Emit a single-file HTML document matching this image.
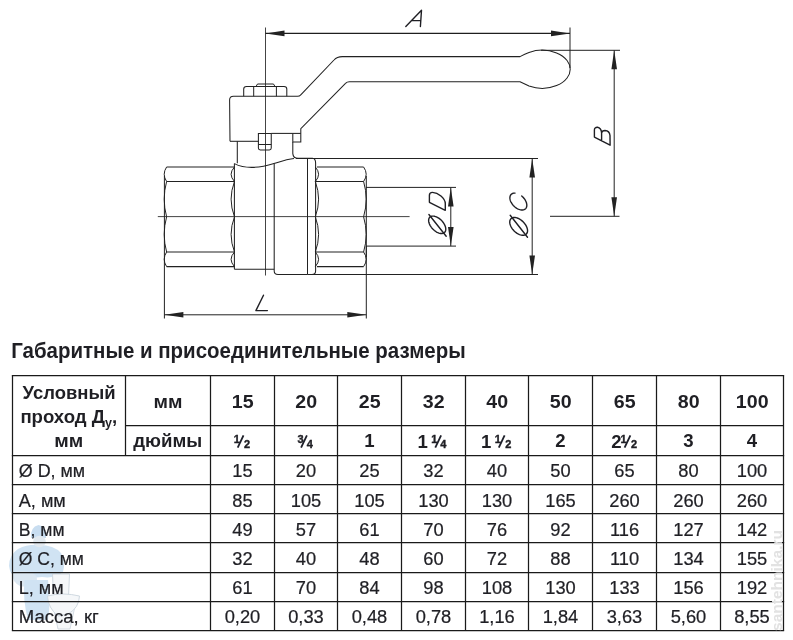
<!DOCTYPE html>
<html><head><meta charset="utf-8"><style>
html,body{margin:0;padding:0;background:#fff;}
body{width:793px;height:640px;overflow:hidden;position:relative;}
svg{position:absolute;left:0;top:0;will-change:transform;}
text{font-family:"Liberation Sans",sans-serif;fill:#1f1f24;stroke:#1f1f24;stroke-width:0.22px;}
text[font-weight="bold"]{stroke-width:0;}
</style></head><body>
<svg width="793" height="640" viewBox="0 0 793 640">
<line x1="265.5" y1="27.5" x2="265.5" y2="275.5" fill="none" stroke="#222222" stroke-width="0.85"/>
<line x1="157.8" y1="216.6" x2="409.6" y2="216.6" fill="none" stroke="#222222" stroke-width="0.85"/>
<line x1="265.5" y1="33.4" x2="570" y2="33.4" stroke="#1e1e1e" stroke-width="1.15"/>
<path d="M265.5,33.4 L284.50,36.20 L284.50,30.60 Z" fill="#222222" stroke="none"/>
<path d="M570,33.4 L551.00,30.60 L551.00,36.20 Z" fill="#222222" stroke="none"/>
<line x1="570" y1="27.5" x2="570" y2="68" fill="none" stroke="#222222" stroke-width="1.0"/>
<line x1="541" y1="50.3" x2="620" y2="50.3" fill="none" stroke="#222222" stroke-width="1.0"/>
<line x1="550" y1="216.3" x2="619.5" y2="216.3" fill="none" stroke="#222222" stroke-width="1.0"/>
<line x1="614.2" y1="50.3" x2="614.2" y2="216.3" fill="none" stroke="#222222" stroke-width="1.0"/>
<path d="M614.2,50.3 L611.40,69.30 L617.00,69.30 Z" fill="#222222" stroke="none"/>
<path d="M614.2,216.3 L617.00,197.30 L611.40,197.30 Z" fill="#222222" stroke="none"/>
<line x1="296" y1="158.5" x2="538" y2="158.5" fill="none" stroke="#222222" stroke-width="1.0"/>
<line x1="307.3" y1="274.5" x2="538" y2="274.5" fill="none" stroke="#222222" stroke-width="1.0"/>
<line x1="532.2" y1="158.5" x2="532.2" y2="274.5" fill="none" stroke="#222222" stroke-width="1.0"/>
<path d="M532.2,158.5 L529.40,177.50 L535.00,177.50 Z" fill="#222222" stroke="none"/>
<path d="M532.2,274.5 L535.00,255.50 L529.40,255.50 Z" fill="#222222" stroke="none"/>
<line x1="366" y1="187.4" x2="456" y2="187.4" fill="none" stroke="#222222" stroke-width="1.0"/>
<line x1="366" y1="246.1" x2="456" y2="246.1" fill="none" stroke="#222222" stroke-width="1.0"/>
<line x1="450.8" y1="187.4" x2="450.8" y2="246.1" fill="none" stroke="#222222" stroke-width="1.0"/>
<path d="M450.8,187.4 L448.00,206.40 L453.60,206.40 Z" fill="#222222" stroke="none"/>
<path d="M450.8,246.1 L453.60,227.10 L448.00,227.10 Z" fill="#222222" stroke="none"/>
<line x1="164.4" y1="257" x2="164.4" y2="318.5" fill="none" stroke="#222222" stroke-width="1.0"/>
<line x1="366.3" y1="246" x2="366.3" y2="318.5" fill="none" stroke="#222222" stroke-width="1.0"/>
<line x1="164.4" y1="314.8" x2="366.3" y2="314.8" fill="none" stroke="#222222" stroke-width="1.0"/>
<path d="M164.4,314.8 L183.40,317.60 L183.40,312.00 Z" fill="#222222" stroke="none"/>
<path d="M366.3,314.8 L347.30,312.00 L347.30,317.60 Z" fill="#222222" stroke="none"/>
<path d="M230,141.3 L229.6,100 Q229.6,96.3 233.5,96.3 L297.5,96.3 Q299.5,96.3 301,94.6 L334,60 Q337,56.6 342.3,56.6 L520,56.6 Q525,54 529,52.5 A28 19 0 1 1 529,86 Q525,84 520,81.7 L349.4,81.7 Q347,81.7 345.5,83.3 L300.8,128.6 L300.8,141.9 L292.8,141.9 L292.8,133.4" fill="none" stroke="#222222" stroke-width="1.05"/>
<path d="M230,141.3 L258.4,141.3" fill="none" stroke="#222222" stroke-width="1.05"/>
<path d="M271.25,133.4 L300.8,133.4" fill="none" stroke="#222222" stroke-width="1.05"/>
<path d="M258.4,133.4 L271.25,133.4 L271.25,148 Q271.25,149.9 269.3,149.9 L260.3,149.9 Q258.4,149.9 258.4,148 Z" fill="none" stroke="#222222" stroke-width="1.05"/>
<line x1="258.4" y1="144.5" x2="271.25" y2="144.5" fill="none" stroke="#222222" stroke-width="1.05"/>
<path d="M243.7,96.3 L243.7,89 Q243.7,86.5 246.5,86.5 L284,86.5 Q286.8,86.5 286.8,89 L286.8,96.3" fill="none" stroke="#222222" stroke-width="1.05"/>
<line x1="253.7" y1="87" x2="253.7" y2="96.3" fill="none" stroke="#222222" stroke-width="1.0"/>
<line x1="276.4" y1="87" x2="276.4" y2="96.3" fill="none" stroke="#222222" stroke-width="1.0"/>
<path d="M256,86.5 L257.5,84 L273.5,84 L275,86.5" fill="none" stroke="#222222" stroke-width="1.0"/>
<line x1="237.3" y1="141.3" x2="237.3" y2="163.3" fill="none" stroke="#222222" stroke-width="1.05"/>
<path d="M292.8,141.9 L292.8,153.6 Q293.2,158.3 298,158.3 L312.5,158.3 Q315.6,158.6 315.6,163 L315.6,271 Q315.6,274.5 312,274.5" fill="none" stroke="#222222" stroke-width="1.05"/>
<path d="M234.4,163.6 C245,169 258,168.5 274,163.5 C282,161 288,159 294,158.5" fill="none" stroke="#222222" stroke-width="1.05"/>
<line x1="234.4" y1="163.6" x2="234.4" y2="269.2" fill="none" stroke="#222222" stroke-width="1.05"/>
<line x1="234.4" y1="269.2" x2="274.2" y2="269.2" fill="none" stroke="#222222" stroke-width="1.05"/>
<path d="M274.2,163.5 L274.2,271 Q274.2,274.5 278,274.5 L307.3,274.5" fill="none" stroke="#222222" stroke-width="1.05"/>
<line x1="307.5" y1="158.3" x2="307.5" y2="274.5" fill="none" stroke="#222222" stroke-width="1.05"/>
<line x1="166.6" y1="167.0" x2="234.5" y2="167.0" fill="none" stroke="#222222" stroke-width="1.05"/>
<line x1="166.6" y1="266.6" x2="234.5" y2="266.6" fill="none" stroke="#222222" stroke-width="1.05"/>
<line x1="166.6" y1="181.5" x2="234.5" y2="181.5" fill="none" stroke="#222222" stroke-width="1.05"/>
<line x1="166.6" y1="252.0" x2="234.5" y2="252.0" fill="none" stroke="#222222" stroke-width="1.05"/>
<path d="M166.6,167.0 Q161.80,174.25 166.6,181.5 Q161.80,199.15 166.6,216.8 Q161.80,234.40 166.6,252.0 Q161.80,259.30 166.6,266.6" fill="none" stroke="#222222" stroke-width="1.0"/>
<line x1="164.4" y1="176" x2="164.4" y2="257" fill="none" stroke="#222222" stroke-width="1.0"/>
<path d="M234.5,167.0 Q227.70,174.25 234.5,181.5 Q227.70,199.15 234.5,216.8 Q227.70,234.40 234.5,252.0 Q227.70,259.30 234.5,266.6" fill="none" stroke="#222222" stroke-width="1.0"/>
<line x1="317" y1="167.0" x2="363.6" y2="167.0" fill="none" stroke="#222222" stroke-width="1.05"/>
<line x1="317" y1="266.6" x2="363.6" y2="266.6" fill="none" stroke="#222222" stroke-width="1.05"/>
<line x1="315.3" y1="181.5" x2="363.6" y2="181.5" fill="none" stroke="#222222" stroke-width="1.05"/>
<line x1="315.3" y1="252.0" x2="363.6" y2="252.0" fill="none" stroke="#222222" stroke-width="1.05"/>
<path d="M315.3,167.0 Q321.90,174.25 315.3,181.5 Q321.90,199.15 315.3,216.8 Q321.90,234.40 315.3,252.0 Q321.90,259.30 315.3,266.6" fill="none" stroke="#222222" stroke-width="1.0"/>
<path d="M363.6,167.0 Q368.80,174.25 363.6,181.5 Q368.80,199.15 363.6,216.8 Q368.80,234.40 363.6,252.0 Q368.80,259.30 363.6,266.6" fill="none" stroke="#222222" stroke-width="1.0"/>
<line x1="366.3" y1="176" x2="366.3" y2="257" fill="none" stroke="#222222" stroke-width="1.0"/>

<g>
<path d="M18,549 Q28,544 39,545 Q54,545 61,553 Q66,562 63,572 Q55,579 42,577 L20,579 Q10,577 9,566 Q9,555 18,549 Z" fill="#d0e3f3"/>
<path d="M31,538 Q30,527 38.5,525 Q46.5,526 46,538 Z" fill="#c8ddf0"/>
<ellipse cx="39.5" cy="541.5" rx="6.3" ry="5.8" fill="#e2e9ef"/>
<path d="M12,573 Q20,570 30,572 Q38,574 37,582 Q30,588 20,586 Q12,582 12,573 Z" fill="#dbe7f1"/>
<path d="M24.5,580 L48,580 Q51,600 48,620 L28,620 Q22.5,600 24.5,580 Z" fill="#d0e3f3"/>
<path d="M52.5,574 L69.5,574 L68.5,597 L53.5,597 Z" fill="#f5f7f9" stroke="#cfd8e0" stroke-width="1"/>
<path d="M53,606 L58,629 L70,629 L75,606 Z" fill="#f5f7f9" stroke="#d3dbe3" stroke-width="1"/>
<path d="M47.5,596 Q63,592 79.5,596 Q79,608 68,614 L58,616 Q48,608 47.5,596 Z" fill="#f5f7f9" stroke="#cfd8e0" stroke-width="1"/>
</g>

<path d="M405.8,26.5 L421.5,10.2 L420.4,26.5 M412.3,20.6 L420.8,20.6" fill="none" stroke="#1f1f24" stroke-width="1.4" stroke-linecap="round" stroke-linejoin="round"/>
<path d="M263.5,295.2 L255.9,310.6 L267.4,310.6" fill="none" stroke="#1f1f24" stroke-width="1.4" stroke-linecap="round" stroke-linejoin="round"/>
<path d="M594.4,137.1 L610.1,145.2 L610,135.5 Q609.5,130.8 605,130.5 Q602,130.6 601.6,133 L601.6,140.8 M601.6,133 Q601.2,128 597.5,127.3 Q594.4,127.2 594.4,130 L594.4,137.1" fill="none" stroke="#1f1f24" stroke-width="1.4" stroke-linecap="round" stroke-linejoin="round"/>
<path d="M445.3,210.3 L445.3,203.7 C445.3,198 438,192.5 432.5,192.4 Q429.4,192.4 429.4,195.3 L429.4,202.3 Z" fill="none" stroke="#1f1f24" stroke-width="1.4" stroke-linecap="round" stroke-linejoin="round"/>
<path d="M444.56,232.43 L444.06,232.83 L443.49,233.14 L442.85,233.36 L442.14,233.49 L441.38,233.52 L440.58,233.46 L439.74,233.30 L438.87,233.05 L437.98,232.71 L437.08,232.28 L436.19,231.77 L435.30,231.19 L434.44,230.53 L433.61,229.81 L432.81,229.04 L432.07,228.22 L431.38,227.36 L430.75,226.47 L430.20,225.57 L429.72,224.66 L429.32,223.75 L429.01,222.85 L428.79,221.97 L428.66,221.12 L428.63,220.32 L428.69,219.56 L428.84,218.86 L429.09,218.22 L429.42,217.66 L429.84,217.17 L430.34,216.77 L430.91,216.46 L431.55,216.24 L432.26,216.11 L433.02,216.08 L433.82,216.14 L434.66,216.30 L435.53,216.55 L436.42,216.89 L437.32,217.32 L438.21,217.83 L439.10,218.41 L439.96,219.07 L440.79,219.79 L441.59,220.56 L442.33,221.38 L443.02,222.24 L443.65,223.13 L444.20,224.03 L444.68,224.94 L445.08,225.85 L445.39,226.75 L445.61,227.63 L445.74,228.48 L445.77,229.28 L445.71,230.04 L445.56,230.74 L445.31,231.38 L444.98,231.94 L444.56,232.43 Z" fill="none" stroke="#1f1f24" stroke-width="1.4" stroke-linecap="round" stroke-linejoin="round"/>
<path d="M428.9,214.5 L446.2,236.3" fill="none" stroke="#1f1f24" stroke-width="1.4" stroke-linecap="round" stroke-linejoin="round"/>
<path d="M526.32,234.07 L525.81,234.50 L525.22,234.84 L524.55,235.09 L523.82,235.25 L523.04,235.30 L522.20,235.26 L521.33,235.12 L520.43,234.89 L519.50,234.57 L518.57,234.15 L517.64,233.65 L516.72,233.07 L515.83,232.41 L514.96,231.70 L514.13,230.92 L513.35,230.09 L512.64,229.22 L511.98,228.33 L511.40,227.41 L510.90,226.48 L510.48,225.55 L510.16,224.62 L509.93,223.72 L509.79,222.85 L509.75,222.01 L509.80,221.23 L509.96,220.50 L510.21,219.83 L510.55,219.24 L510.98,218.73 L511.49,218.30 L512.08,217.96 L512.75,217.71 L513.48,217.55 L514.26,217.50 L515.10,217.54 L515.97,217.68 L516.87,217.91 L517.80,218.23 L518.73,218.65 L519.66,219.15 L520.58,219.73 L521.47,220.39 L522.34,221.10 L523.17,221.88 L523.95,222.71 L524.66,223.58 L525.32,224.47 L525.90,225.39 L526.40,226.32 L526.82,227.25 L527.14,228.18 L527.37,229.08 L527.51,229.95 L527.55,230.79 L527.50,231.57 L527.34,232.30 L527.09,232.97 L526.75,233.56 L526.32,234.07 Z" fill="none" stroke="#1f1f24" stroke-width="1.4" stroke-linecap="round" stroke-linejoin="round"/>
<path d="M510.2,215.2 L527.5,237.3" fill="none" stroke="#1f1f24" stroke-width="1.4" stroke-linecap="round" stroke-linejoin="round"/>
<path d="M521.74,196.07 L522.44,196.67 L523.10,197.32 L523.71,198.01 L524.29,198.72 L524.81,199.46 L525.29,200.22 L525.70,200.98 L526.05,201.76 L526.34,202.53 L526.56,203.29 L526.72,204.03 L526.80,204.76 L526.82,205.46 L526.76,206.13 L526.64,206.76 L526.44,207.34 L526.18,207.88 L525.86,208.36 L525.47,208.79 L525.02,209.16 L524.52,209.47 L523.97,209.71 L523.36,209.88 L522.72,209.98 L522.04,210.01 L521.33,209.97 L520.60,209.87 L519.85,209.69 L519.08,209.44 L518.31,209.13 L517.54,208.76 L516.78,208.33 L516.03,207.84 L515.30,207.30 L514.59,206.71 L513.92,206.07 L513.28,205.40 L512.69,204.70 L512.14,203.97 L511.64,203.23 L511.20,202.46 L510.82,201.69 L510.50,200.92 L510.25,200.16 L510.06,199.40 L509.95,198.67 L509.90,197.95 L509.92,197.27 L510.02,196.62 L510.18,196.02 L510.41,195.46 L510.71,194.95 L511.07,194.49 L511.49,194.10 L511.97,193.76 L512.50,193.49 L513.08,193.29 L513.70,193.16 L514.37,193.09 L515.06,193.10" fill="none" stroke="#1f1f24" stroke-width="1.4" stroke-linecap="round" stroke-linejoin="round"/>
<line x1="11.85" y1="375.5" x2="784.15" y2="375.5" stroke="#1a1a1a" stroke-width="1.25"/>
<line x1="125.5" y1="425.5" x2="783.5" y2="425.5" stroke="#1a1a1a" stroke-width="1.25"/>
<line x1="11.85" y1="455.5" x2="784.15" y2="455.5" stroke="#1a1a1a" stroke-width="1.25"/>
<line x1="11.85" y1="484.5" x2="784.15" y2="484.5" stroke="#1a1a1a" stroke-width="1.25"/>
<line x1="11.85" y1="513.5" x2="784.15" y2="513.5" stroke="#1a1a1a" stroke-width="1.25"/>
<line x1="11.85" y1="542.5" x2="784.15" y2="542.5" stroke="#1a1a1a" stroke-width="1.25"/>
<line x1="11.85" y1="572.5" x2="784.15" y2="572.5" stroke="#1a1a1a" stroke-width="1.25"/>
<line x1="11.85" y1="601.5" x2="784.15" y2="601.5" stroke="#1a1a1a" stroke-width="1.25"/>
<line x1="11.85" y1="630.5" x2="784.15" y2="630.5" stroke="#1a1a1a" stroke-width="1.25"/>
<line x1="12.5" y1="375.5" x2="12.5" y2="630.5" stroke="#1a1a1a" stroke-width="1.25"/>
<line x1="125.5" y1="375.5" x2="125.5" y2="455.5" stroke="#1a1a1a" stroke-width="1.25"/>
<line x1="210.5" y1="375.5" x2="210.5" y2="630.5" stroke="#1a1a1a" stroke-width="1.25"/>
<line x1="274.5" y1="375.5" x2="274.5" y2="630.5" stroke="#1a1a1a" stroke-width="1.25"/>
<line x1="337.5" y1="375.5" x2="337.5" y2="630.5" stroke="#1a1a1a" stroke-width="1.25"/>
<line x1="401.5" y1="375.5" x2="401.5" y2="630.5" stroke="#1a1a1a" stroke-width="1.25"/>
<line x1="465.5" y1="375.5" x2="465.5" y2="630.5" stroke="#1a1a1a" stroke-width="1.25"/>
<line x1="528.5" y1="375.5" x2="528.5" y2="630.5" stroke="#1a1a1a" stroke-width="1.25"/>
<line x1="592.5" y1="375.5" x2="592.5" y2="630.5" stroke="#1a1a1a" stroke-width="1.25"/>
<line x1="656.5" y1="375.5" x2="656.5" y2="630.5" stroke="#1a1a1a" stroke-width="1.25"/>
<line x1="720.5" y1="375.5" x2="720.5" y2="630.5" stroke="#1a1a1a" stroke-width="1.25"/>
<line x1="783.5" y1="375.5" x2="783.5" y2="630.5" stroke="#1a1a1a" stroke-width="1.25"/>
<text x="11.2" y="357.7" font-size="21.5" font-weight="bold" text-anchor="start" textLength="454.5" lengthAdjust="spacingAndGlyphs">Габаритные и присоединительные размеры</text>
<text x="22.6" y="398.8" font-size="18.6" font-weight="bold" text-anchor="start" textLength="93" lengthAdjust="spacingAndGlyphs">Условный</text>
<text x="20.4" y="422.6" font-size="18.6" font-weight="bold">проход Д<tspan font-size="12.5" dy="4.3">у</tspan><tspan dy="-4.3">,</tspan></text>
<text x="68.8" y="446.7" font-size="18.6" font-weight="bold" text-anchor="middle" textLength="29" lengthAdjust="spacingAndGlyphs">мм</text>
<text x="168" y="407.6" font-size="18.6" font-weight="bold" text-anchor="middle" textLength="29" lengthAdjust="spacingAndGlyphs">мм</text>
<text x="167.7" y="447.0" font-size="18.6" font-weight="bold" text-anchor="middle" textLength="69" lengthAdjust="spacingAndGlyphs">дюймы</text>
<text x="242.7" y="407.8" font-size="18.6" font-weight="bold" text-anchor="middle" textLength="21.8" lengthAdjust="spacingAndGlyphs">15</text>
<text x="306.2" y="407.8" font-size="18.6" font-weight="bold" text-anchor="middle" textLength="21.8" lengthAdjust="spacingAndGlyphs">20</text>
<text x="369.7" y="407.8" font-size="18.6" font-weight="bold" text-anchor="middle" textLength="21.8" lengthAdjust="spacingAndGlyphs">25</text>
<text x="433.7" y="407.8" font-size="18.6" font-weight="bold" text-anchor="middle" textLength="21.8" lengthAdjust="spacingAndGlyphs">32</text>
<text x="497.2" y="407.8" font-size="18.6" font-weight="bold" text-anchor="middle" textLength="21.8" lengthAdjust="spacingAndGlyphs">40</text>
<text x="560.7" y="407.8" font-size="18.6" font-weight="bold" text-anchor="middle" textLength="21.8" lengthAdjust="spacingAndGlyphs">50</text>
<text x="624.7" y="407.8" font-size="18.6" font-weight="bold" text-anchor="middle" textLength="21.8" lengthAdjust="spacingAndGlyphs">65</text>
<text x="688.7" y="407.8" font-size="18.6" font-weight="bold" text-anchor="middle" textLength="21.8" lengthAdjust="spacingAndGlyphs">80</text>
<text x="752.2" y="407.8" font-size="18.6" font-weight="bold" text-anchor="middle" textLength="32.7" lengthAdjust="spacingAndGlyphs">100</text>
<text style="stroke-width:0.4px" x="236.7" y="442.6" font-size="11.0" font-weight="bold" text-anchor="middle">1</text>
<line x1="237.70" y1="447.6" x2="243.50" y2="435.4" stroke="#1d1f29" stroke-width="1.8"/>
<text style="stroke-width:0.4px" x="247.1" y="447.6" font-size="11.0" font-weight="bold" text-anchor="middle">2</text>
<text style="stroke-width:0.4px" x="300.5" y="442.6" font-size="11.0" font-weight="bold" text-anchor="middle">3</text>
<line x1="301.10" y1="447.6" x2="306.90" y2="435.4" stroke="#1d1f29" stroke-width="1.8"/>
<text style="stroke-width:0.4px" x="309.7" y="447.6" font-size="11.0" font-weight="bold" text-anchor="middle">4</text>
<text x="427.84" y="447.5" font-size="18.6" font-weight="bold" text-anchor="end">1</text>
<text style="stroke-width:0.4px" x="434.3" y="442.6" font-size="11.0" font-weight="bold" text-anchor="middle">1</text>
<line x1="435.30" y1="447.6" x2="441.10" y2="435.4" stroke="#1d1f29" stroke-width="1.8"/>
<text style="stroke-width:0.4px" x="443.3" y="447.6" font-size="11.0" font-weight="bold" text-anchor="middle">4</text>
<text x="491.34" y="447.5" font-size="18.6" font-weight="bold" text-anchor="end">1</text>
<text style="stroke-width:0.4px" x="497.8" y="442.6" font-size="11.0" font-weight="bold" text-anchor="middle">1</text>
<line x1="498.80" y1="447.6" x2="504.60" y2="435.4" stroke="#1d1f29" stroke-width="1.8"/>
<text style="stroke-width:0.4px" x="508.2" y="447.6" font-size="11.0" font-weight="bold" text-anchor="middle">2</text>
<text x="621.5" y="447.5" font-size="18.6" font-weight="bold" text-anchor="end">2</text>
<text style="stroke-width:0.4px" x="623.6" y="442.6" font-size="11.0" font-weight="bold" text-anchor="middle">1</text>
<line x1="624.60" y1="447.6" x2="630.40" y2="435.4" stroke="#1d1f29" stroke-width="1.8"/>
<text style="stroke-width:0.4px" x="634.0" y="447.6" font-size="11.0" font-weight="bold" text-anchor="middle">2</text>
<text x="369.5" y="447.4" font-size="18.6" font-weight="bold" text-anchor="middle">1</text>
<text x="560.5" y="447.4" font-size="18.6" font-weight="bold" text-anchor="middle">2</text>
<text x="688.5" y="447.4" font-size="18.6" font-weight="bold" text-anchor="middle">3</text>
<text x="752.0" y="447.4" font-size="18.6" font-weight="bold" text-anchor="middle">4</text>
<text x="18.8" y="476.7" font-size="18.3" text-anchor="start" textLength="66.3" lengthAdjust="spacingAndGlyphs">Ø D, мм</text>
<text x="242.5" y="476.7" font-size="18.3" text-anchor="middle">15</text>
<text x="306.0" y="476.7" font-size="18.3" text-anchor="middle">20</text>
<text x="369.5" y="476.7" font-size="18.3" text-anchor="middle">25</text>
<text x="433.5" y="476.7" font-size="18.3" text-anchor="middle">32</text>
<text x="497.0" y="476.7" font-size="18.3" text-anchor="middle">40</text>
<text x="560.5" y="476.7" font-size="18.3" text-anchor="middle">50</text>
<text x="624.5" y="476.7" font-size="18.3" text-anchor="middle">65</text>
<text x="688.5" y="476.7" font-size="18.3" text-anchor="middle">80</text>
<text x="752.0" y="476.7" font-size="18.3" text-anchor="middle">100</text>
<text x="18.8" y="506.7" font-size="18.3" text-anchor="start" textLength="47" lengthAdjust="spacingAndGlyphs">A, мм</text>
<text x="242.5" y="506.7" font-size="18.3" text-anchor="middle">85</text>
<text x="306.0" y="506.7" font-size="18.3" text-anchor="middle">105</text>
<text x="369.5" y="506.7" font-size="18.3" text-anchor="middle">105</text>
<text x="433.5" y="506.7" font-size="18.3" text-anchor="middle">130</text>
<text x="497.0" y="506.7" font-size="18.3" text-anchor="middle">130</text>
<text x="560.5" y="506.7" font-size="18.3" text-anchor="middle">165</text>
<text x="624.5" y="506.7" font-size="18.3" text-anchor="middle">260</text>
<text x="688.5" y="506.7" font-size="18.3" text-anchor="middle">260</text>
<text x="752.0" y="506.7" font-size="18.3" text-anchor="middle">260</text>
<text x="18.8" y="535.7" font-size="18.3" text-anchor="start" textLength="45.7" lengthAdjust="spacingAndGlyphs">B, мм</text>
<text x="242.5" y="535.7" font-size="18.3" text-anchor="middle">49</text>
<text x="306.0" y="535.7" font-size="18.3" text-anchor="middle">57</text>
<text x="369.5" y="535.7" font-size="18.3" text-anchor="middle">61</text>
<text x="433.5" y="535.7" font-size="18.3" text-anchor="middle">70</text>
<text x="497.0" y="535.7" font-size="18.3" text-anchor="middle">76</text>
<text x="560.5" y="535.7" font-size="18.3" text-anchor="middle">92</text>
<text x="624.5" y="535.7" font-size="18.3" text-anchor="middle">116</text>
<text x="688.5" y="535.7" font-size="18.3" text-anchor="middle">127</text>
<text x="752.0" y="535.7" font-size="18.3" text-anchor="middle">142</text>
<text x="18.8" y="564.7" font-size="18.3" text-anchor="start" textLength="65" lengthAdjust="spacingAndGlyphs">Ø C, мм</text>
<text x="242.5" y="564.7" font-size="18.3" text-anchor="middle">32</text>
<text x="306.0" y="564.7" font-size="18.3" text-anchor="middle">40</text>
<text x="369.5" y="564.7" font-size="18.3" text-anchor="middle">48</text>
<text x="433.5" y="564.7" font-size="18.3" text-anchor="middle">60</text>
<text x="497.0" y="564.7" font-size="18.3" text-anchor="middle">72</text>
<text x="560.5" y="564.7" font-size="18.3" text-anchor="middle">88</text>
<text x="624.5" y="564.7" font-size="18.3" text-anchor="middle">110</text>
<text x="688.5" y="564.7" font-size="18.3" text-anchor="middle">134</text>
<text x="752.0" y="564.7" font-size="18.3" text-anchor="middle">155</text>
<text x="18.8" y="593.7" font-size="18.3" text-anchor="start" textLength="44.8" lengthAdjust="spacingAndGlyphs">L, мм</text>
<text x="242.5" y="593.7" font-size="18.3" text-anchor="middle">61</text>
<text x="306.0" y="593.7" font-size="18.3" text-anchor="middle">70</text>
<text x="369.5" y="593.7" font-size="18.3" text-anchor="middle">84</text>
<text x="433.5" y="593.7" font-size="18.3" text-anchor="middle">98</text>
<text x="497.0" y="593.7" font-size="18.3" text-anchor="middle">108</text>
<text x="560.5" y="593.7" font-size="18.3" text-anchor="middle">130</text>
<text x="624.5" y="593.7" font-size="18.3" text-anchor="middle">133</text>
<text x="688.5" y="593.7" font-size="18.3" text-anchor="middle">156</text>
<text x="752.0" y="593.7" font-size="18.3" text-anchor="middle">192</text>
<text x="18.8" y="622.7" font-size="18.3" text-anchor="start" textLength="80" lengthAdjust="spacingAndGlyphs">Масса, кг</text>
<text x="242.5" y="622.7" font-size="18.3" text-anchor="middle">0,20</text>
<text x="306.0" y="622.7" font-size="18.3" text-anchor="middle">0,33</text>
<text x="369.5" y="622.7" font-size="18.3" text-anchor="middle">0,48</text>
<text x="433.5" y="622.7" font-size="18.3" text-anchor="middle">0,78</text>
<text x="497.0" y="622.7" font-size="18.3" text-anchor="middle">1,16</text>
<text x="560.5" y="622.7" font-size="18.3" text-anchor="middle">1,84</text>
<text x="624.5" y="622.7" font-size="18.3" text-anchor="middle">3,63</text>
<text x="688.5" y="622.7" font-size="18.3" text-anchor="middle">5,60</text>
<text x="752.0" y="622.7" font-size="18.3" text-anchor="middle">8,55</text>
<text transform="translate(782,631) rotate(-90)" font-size="14.5" font-weight="bold" style="fill:#e2e2e2;stroke:none" textLength="101" lengthAdjust="spacingAndGlyphs">santehnika.ru</text>
</svg>
</body></html>
